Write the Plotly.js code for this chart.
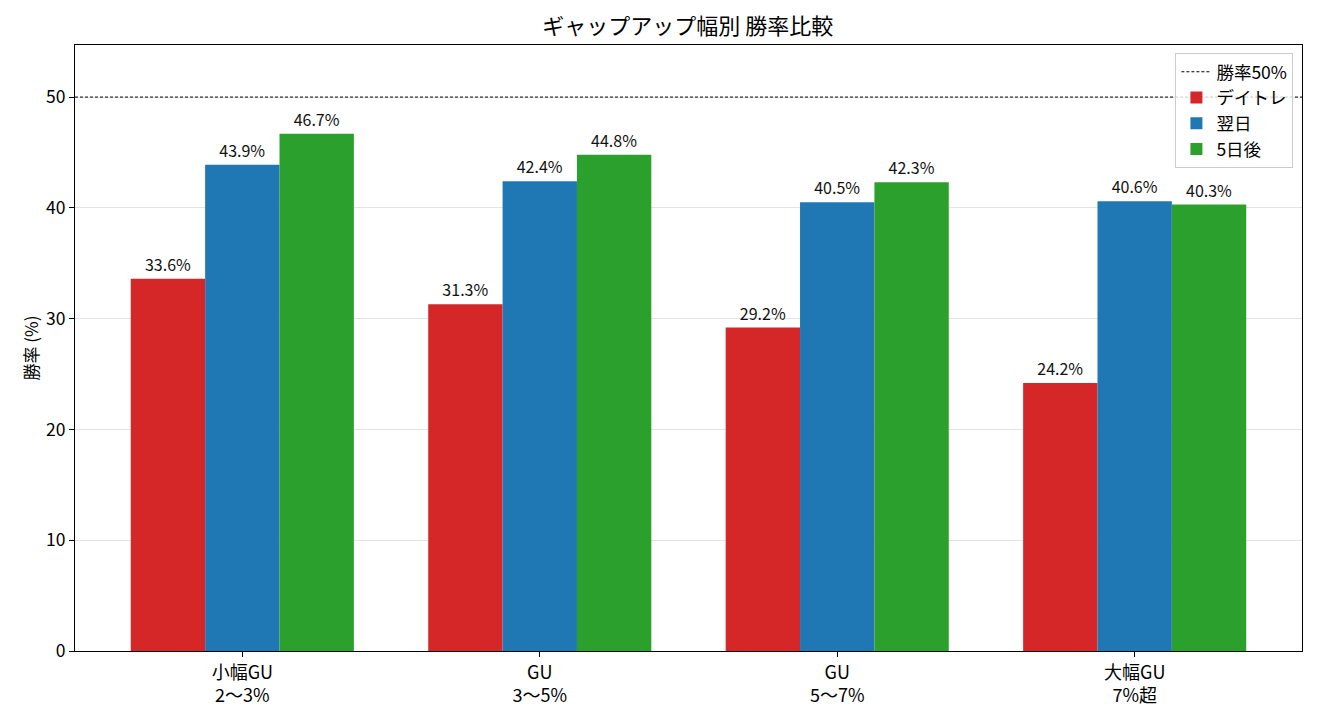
<!DOCTYPE html>
<html>
<head>
<meta charset="utf-8">
<script src="https://cdn.plot.ly/plotly-3.0.1.min.js"></script>
<style>
  html, body { margin: 0; padding: 0; background: #fff; }
  #chart { width: 1320px; height: 720px; }
</style>
</head>
<body>
<div id="chart"></div>
<script>
const categories = ["小幅GU<br>2〜3%", "GU<br>3〜5%", "GU<br>5〜7%", "大幅GU<br>7%超"];
const dayTrade = [33.6, 31.3, 29.2, 24.2];
const nextDay = [43.9, 42.4, 40.5, 40.6];
const fiveDay = [46.7, 44.8, 42.3, 40.3];
const threshold = 50;

const font = "Noto Sans CJK JP, Noto Sans, DejaVu Sans, sans-serif";
const xs = categories.map((_, i) => i);

function barTrace(name, values, color) {
  return {
    type: "bar",
    name: name,
    x: xs,
    y: values,
    marker: { color: color, line: { width: 0 } },
    text: values.map((v) => v.toFixed(1) + "%"),
    textposition: "outside",
    cliponaxis: false,
    textfont: { size: 16, color: "#111" },
  };
}

const traces = [
  {
    type: "scatter",
    mode: "lines",
    name: "勝率50%",
    x: [-0.5625, 3.5625],
    y: [threshold, threshold],
    line: { color: "#000", width: 1, dash: "3px,2px" },
    hoverinfo: "skip",
  },
  barTrace("デイトレ", dayTrade, "#d62728"),
  barTrace("翌日", nextDay, "#1f77b4"),
  barTrace("5日後", fiveDay, "#2ca02c"),
];

const layout = {
  width: 1320,
  height: 720,
  margin: { l: 75, r: 18, t: 45, b: 69 },
  paper_bgcolor: "#fff",
  plot_bgcolor: "#fff",
  font: { family: font, size: 17, color: "#000" },
  title: { text: "ギャップアップ幅別 勝率比較", font: { size: 22 }, x: 0.521, xanchor: "center", y: 0.963, yanchor: "middle" },
  barmode: "group",
  bargap: 0.25,
  bargroupgap: 0,
  showlegend: true,
  legend: {
    x: 0.993,
    xanchor: "right",
    y: 0.987,
    yanchor: "top",
    bgcolor: "rgba(255,255,255,0.8)",
    bordercolor: "#cccccc",
    borderwidth: 1,
    font: { size: 17.5 },
    traceorder: "normal",
  },
  xaxis: {
    range: [-0.5625, 3.5625],
    tickvals: xs,
    ticktext: categories,
    ticks: "outside",
    ticklen: 5,
    tickcolor: "#000",
    showline: true,
    linecolor: "#000",
    linewidth: 1,
    mirror: true,
    showgrid: false,
    zeroline: false,
    tickfont: { size: 18 },
  },
  yaxis: {
    range: [0, 54.7],
    tickvals: [0, 10, 20, 30, 40, 50],
    ticks: "outside",
    ticklen: 5,
    tickcolor: "#000",
    showline: true,
    linecolor: "#000",
    linewidth: 1,
    mirror: true,
    showgrid: true,
    gridcolor: "rgba(176,176,176,0.35)",
    zeroline: false,
    tickfont: { size: 17.5 },
    title: { text: "勝率 (%)", font: { size: 17 }, standoff: 3 },
  },
};

Plotly.newPlot("chart", traces, layout, { displayModeBar: false, staticPlot: true });
</script>
</body>
</html>
